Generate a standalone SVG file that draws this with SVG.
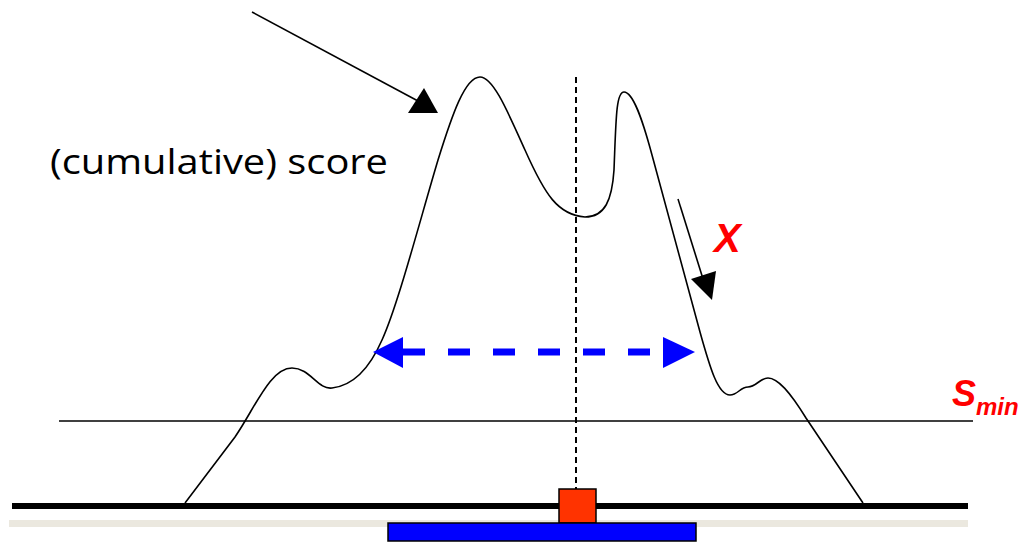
<svg xmlns="http://www.w3.org/2000/svg" width="1026" height="542" viewBox="0 0 1026 542">
<style>
.thin{stroke:#000;stroke-width:1.6;fill:none}
.lbl{font-family:"Liberation Sans",Arial,sans-serif;font-weight:bold;font-style:italic;fill:#ff0000}
</style>
<rect width="1026" height="542" fill="#fff"/>
<g id="baseline">
<line x1="9" y1="523.5" x2="968" y2="523.5" stroke="#ebe8df" stroke-width="7"/>
<line x1="12" y1="506" x2="968" y2="506" stroke="#000" stroke-width="6"/>
</g>
<g id="smin-line"><line class="thin" x1="59" y1="421" x2="973" y2="421"/></g>
<g id="score-curve">
<path class="thin" stroke-width="2" d="M185,503 L235,437 C255,408 270,368 292,368 C310,368 318,390 332,388 C350,386 368,372 382,340 C398,305 420,220 438,160 C452,115 465,77 480,77 C493,77 507,110 525,150 C545,195 558,215 585,217 C605,217 612,200 614,170 C616,120 616,92 624,92 C633,92 642,118 652,155 L700,332 C710,368 718,395 730,395 C738,395 740,387 748,387 C756,387 760,378 768,378 C778,378 790,392 806,418 L863,503"/>
</g>
<g id="center-line"><line x1="576" y1="77" x2="576" y2="489" stroke="#000" stroke-width="2" stroke-dasharray="6,4"/></g>
<g id="connectors">
<line class="thin" x1="252" y1="12" x2="418" y2="101"/>
<polygon points="408,113 438,113 424,88" fill="#000"/>
<line class="thin" x1="678" y1="199" x2="704" y2="282"/>
<polygon points="691,279 716,271 712,300" fill="#000"/>
<line x1="403" y1="352" x2="663" y2="352" stroke="#0000ff" stroke-width="7" stroke-dasharray="22,23"/>
<polygon points="373,352 403,337 403,368" fill="#0000ff"/>
<polygon points="695,352 663,337 663,368" fill="#0000ff"/>
</g>
<g id="red-box"><rect x="559" y="489" width="37" height="34" fill="#ff3300" stroke="#000" stroke-width="1.5"/></g>
<g id="blue-bar"><rect x="388" y="523" width="308" height="18" fill="#0000ff" stroke="#000" stroke-width="1.5"/></g>
<g id="label-score"><text x="50" y="174" font-family="'Open Sans','Noto Sans',sans-serif" font-size="34" fill="#000" textLength="338" lengthAdjust="spacingAndGlyphs">(cumulative) score</text></g>
<g id="label-x"><text class="lbl" x="714" y="252" font-size="40">X</text></g>
<g id="label-smin"><text class="lbl" x="952" y="406" font-size="36">S<tspan font-size="24" dy="9">min</tspan></text></g>
</svg>
